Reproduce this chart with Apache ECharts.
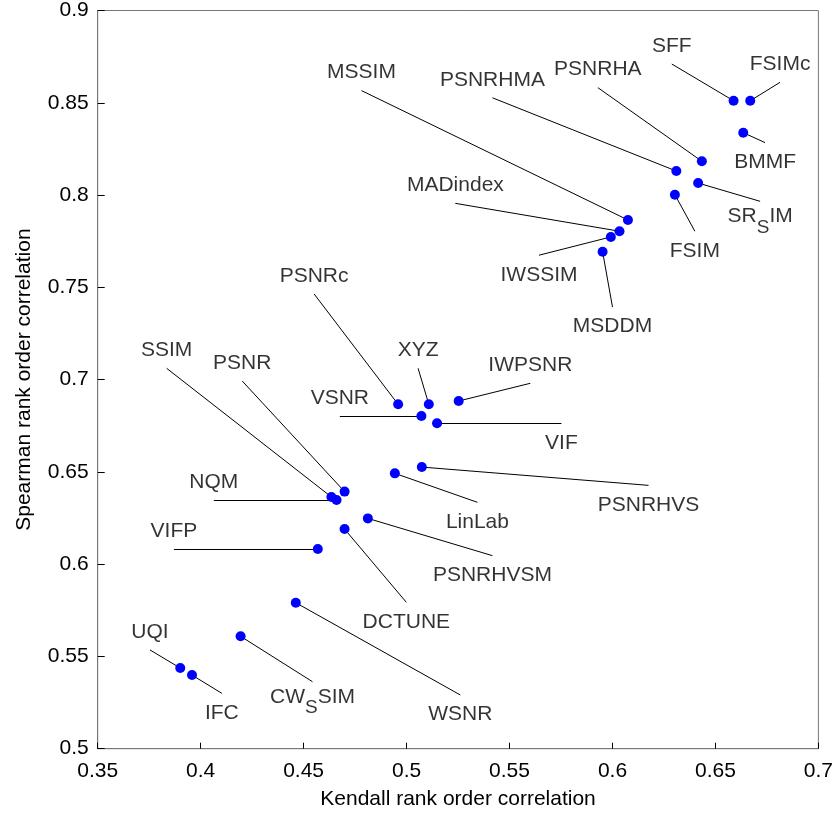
<!DOCTYPE html>
<html>
<head>
<meta charset="utf-8">
<script src="https://cdn.jsdelivr.net/npm/echarts@6/dist/echarts.min.js"></script>
<style>
html,body{margin:0;padding:0;background:#fff;}
#chart{width:836px;height:816px;}
</style>
</head>
<body>
<div id="chart"></div>
<script>
// ---- data ----
var names = ['UQI','IFC','CWSSIM','WSNR','VIFP','DCTUNE','PSNRHVSM','NQM','SSIM','PSNR',
  'LinLab','PSNRHVS','VIF','VSNR','PSNRc','XYZ','IWPSNR','MSDDM','IWSSIM','MADindex',
  'MSSIM','FSIM','PSNRHMA','SRSIM','PSNRHA','BMMF','SFF','FSIMc'];
// label texts (rich markup for subscripts)
var labelTexts = ['UQI','IFC','{n|CW}{s|S}{n|SIM}','WSNR','VIFP','DCTUNE','PSNRHVSM','NQM','SSIM','PSNR',
  'LinLab','PSNRHVS','VIF','VSNR','PSNRc','XYZ','IWPSNR','MSDDM','IWSSIM','MADindex',
  'MSSIM','FSIM','PSNRHMA','{n|SR}{s|S}{n|IM}','PSNRHA','BMMF','SFF','FSIMc'];
var kendall = [0.3901,0.3958,0.4194,0.4462,0.4569,0.4699,0.4812,0.4660,0.4635,0.4699,
  0.4943,0.5074,0.5148,0.5072,0.4959,0.5108,0.5253,0.5952,0.5992,0.6034,
  0.6075,0.6303,0.6310,0.6416,0.6434,0.6635,0.6588,0.6669];
var spearman = [0.5437,0.5399,0.5609,0.5791,0.6082,0.6190,0.6248,0.6348,0.6364,0.6393,
  0.6492,0.6526,0.6763,0.6803,0.6866,0.6866,0.6884,0.7693,0.7773,0.7804,
  0.7865,0.8002,0.8130,0.8065,0.8183,0.8338,0.8511,0.8511];
// text annotation anchors (leader-line ends), in data units
var annotX = [0.3754,0.4103,0.4543,0.5261,0.3870,0.4999,0.5417,0.4064,0.3835,0.4202,
  0.5344,0.6175,0.5752,0.4676,0.4551,0.5056,0.5601,0.6000,0.5643,0.5237,
  0.4781,0.6400,0.5417,0.6717,0.5929,0.6741,0.6288,0.6814];
var annotY = [0.5535,0.5300,0.5363,0.5291,0.6082,0.5793,0.6046,0.6348,0.7061,0.6992,
  0.6335,0.6427,0.6763,0.6803,0.7464,0.7061,0.6980,0.7393,0.7674,0.7955,
  0.8566,0.7804,0.8527,0.7966,0.8582,0.8284,0.8710,0.8611];
var annotSide = ['top','bottom','bottom','bottom','top','bottom','bottom','top','top','top',
  'bottom','bottom','bottom','top','top','top','top','bottom','bottom','top',
  'top','bottom','top','bottom','top','bottom','top','top'];
var xTitle = 'Kendall rank order correlation';
var yTitle = 'Spearman rank order correlation';

// ---- build ----
var FONT = '"Liberation Sans", Arial, Helvetica, sans-serif';
var pts = names.map(function(n,i){ return {name:n, value:[kendall[i], spearman[i]]}; });
var leaders = names.map(function(n,i){ return {coords:[[kendall[i], spearman[i]],[annotX[i], annotY[i]]]}; });
var annots = names.map(function(n,i){
  var rich = labelTexts[i].indexOf('{') === 0;
  var dist = annotSide[i] === 'top' ? 7 : (rich ? 4 : 8.5);
  return {
    name:n, value:[annotX[i], annotY[i]],
    label:{show:true, position:annotSide[i], distance:dist, formatter:labelTexts[i]}
  };
});

var chart = echarts.init(document.getElementById('chart'), null, {renderer:'canvas'});
chart.setOption({
  animation:false,
  backgroundColor:'#ffffff',
  grid:{left:97.7, top:10.3, right:16.7, bottom:67.3, show:true, borderColor:'#777777', borderWidth:1, backgroundColor:'transparent'},
  xAxis:{
    type:'value', min:0.35, max:0.7, interval:0.05,
    name:xTitle, nameLocation:'middle', nameGap:40,
    nameTextStyle:{fontFamily:FONT, fontSize:21, color:'#000'},
    axisLine:{show:true, onZero:false, lineStyle:{color:'#777777', width:1}},
    axisTick:{show:true, inside:true, length:6, lineStyle:{color:'#000'}},
    axisLabel:{fontFamily:FONT, fontSize:21, color:'#000', margin:12},
    splitLine:{show:false}
  },
  yAxis:{
    type:'value', min:0.5, max:0.9, interval:0.05,
    name:yTitle, nameLocation:'middle', nameGap:63, nameRotate:90,
    nameTextStyle:{fontFamily:FONT, fontSize:21, color:'#000'},
    axisLine:{show:true, onZero:false, lineStyle:{color:'#777777', width:1}},
    axisTick:{show:true, inside:true, length:7, lineStyle:{color:'#000'}},
    axisLabel:{fontFamily:FONT, fontSize:21, color:'#000', margin:9},
    splitLine:{show:false}
  },
  series:[
    {
      type:'lines', coordinateSystem:'cartesian2d', silent:true, z:2,
      lineStyle:{color:'#000', width:1, opacity:1, curveness:0},
      data:leaders
    },
    {
      type:'scatter', silent:true, z:3,
      symbol:'circle', symbolSize:1,
      itemStyle:{color:'rgba(0,0,0,0)'},
      label:{show:true, fontFamily:FONT, fontSize:21, color:'#000',
        rich:{
          n:{fontFamily:FONT, fontSize:21, lineHeight:21, color:'#000', verticalAlign:'top'},
          s:{fontFamily:FONT, fontSize:19, lineHeight:19, color:'#000', padding:[12,0,0,0], verticalAlign:'top'}
        }},
      labelLayout:{hideOverlap:false},
      data:annots
    },
    {
      type:'scatter', silent:true, z:4,
      symbol:'circle', symbolSize:10,
      itemStyle:{color:'#0000ff', opacity:1},
      data:pts
    }
  ]
});
</script>
</body>
</html>
